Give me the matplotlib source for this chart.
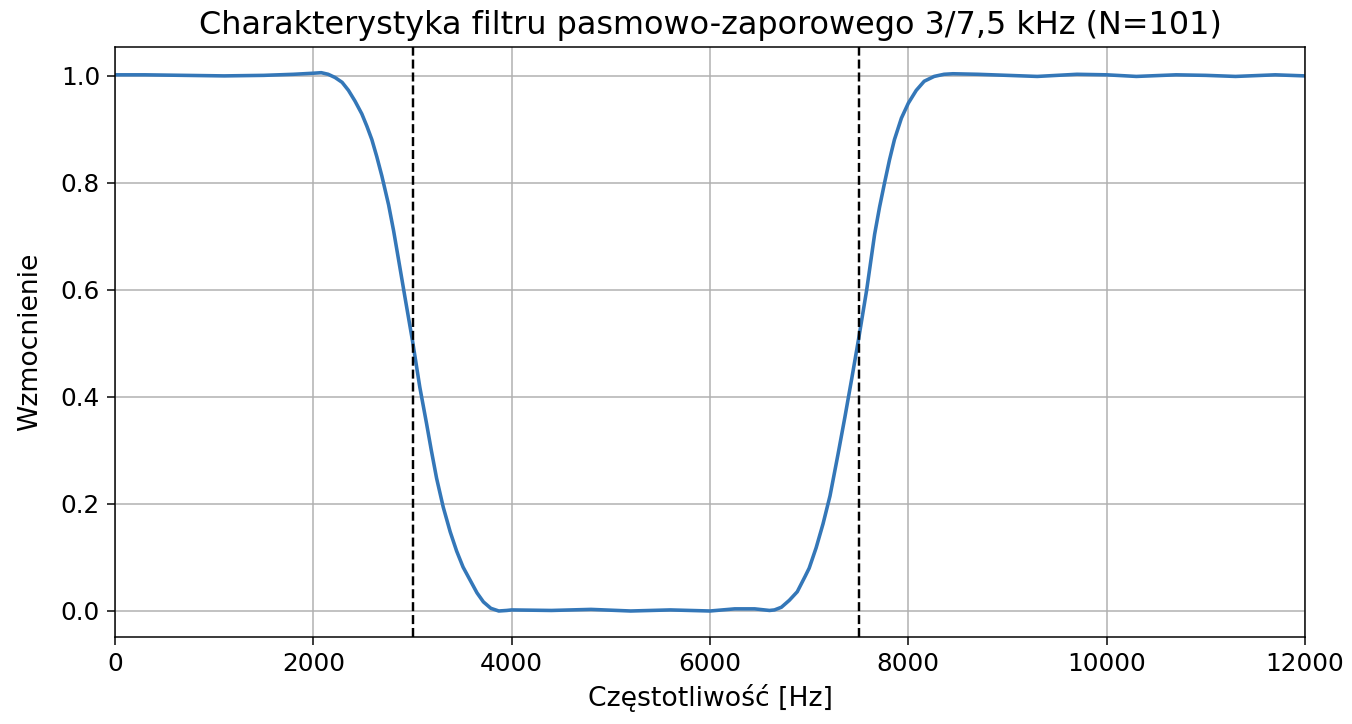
import matplotlib
matplotlib.use("Agg")
import matplotlib.pyplot as plt

# Frequency (Hz) and gain
freq = [0, 300, 700, 1100, 1500, 1800, 2000, 2080, 2150, 2219, 2290, 2354, 2420,
        2489, 2540, 2590, 2640, 2691, 2759, 2810, 2860, 2928, 3000, 3074, 3142,
        3190, 3243, 3310, 3380, 3445, 3510, 3580, 3650, 3715, 3790, 3870, 3950,
        4000, 4400, 4800, 5200, 5600, 6000, 6250, 6450, 6600, 6650, 6720, 6800,
        6880, 6960, 7000, 7070, 7140, 7210, 7290, 7360, 7430, 7500, 7580, 7660,
        7710, 7760, 7810, 7860, 7930, 8000, 8080, 8160, 8260, 8360, 8450, 8700,
        9000, 9300, 9700, 10000, 10300, 10700, 11000, 11300, 11700, 12000]
gain = [1.002, 1.002, 1.001, 1.000, 1.001, 1.003, 1.005, 1.006, 1.003, 0.997,
        0.988, 0.973, 0.953, 0.929, 0.906, 0.881, 0.849, 0.813, 0.759, 0.710,
        0.656, 0.582, 0.505, 0.418, 0.350, 0.300, 0.248, 0.194, 0.148, 0.112,
        0.082, 0.058, 0.034, 0.017, 0.005, 0.000, 0.001, 0.002, 0.001, 0.003,
        0.000, 0.002, 0.000, 0.004, 0.004, 0.001, 0.002, 0.007, 0.020, 0.036,
        0.065, 0.080, 0.118, 0.163, 0.215, 0.292, 0.362, 0.435, 0.510, 0.600,
        0.704, 0.755, 0.800, 0.843, 0.881, 0.921, 0.949, 0.973, 0.990, 0.999,
        1.003, 1.004, 1.003, 1.001, 0.999, 1.003, 1.002, 0.999, 1.002, 1.001,
        0.999, 1.002, 1.000]
cutoffs = [3000, 7500]
xticks = [0, 2000, 4000, 6000, 8000, 10000, 12000]
yticks = [0.0, 0.2, 0.4, 0.6, 0.8, 1.0]

dpi = 135
fig = plt.figure(figsize=(1352 / dpi, 724 / dpi), dpi=dpi)
ax = fig.add_axes([115 / 1352, 1 - 637 / 724, (1305 - 115) / 1352, (637 - 47) / 724])
ax.plot(freq, gain, color="#3477b8", linewidth=1.9)
for c in cutoffs:
    ax.axvline(c, color="black", linestyle="--", linewidth=1.3)
ax.set_xlim(0, 12000)
ax.set_ylim(-0.0486, 1.054)
ax.set_xticks(xticks)
ax.set_yticks(yticks)
ax.tick_params(labelsize=13.2, length=4.5)
ax.grid(True)
ax.set_title("Charakterystyka filtru pasmowo-zaporowego 3/7,5 kHz (N=101)", fontsize=17, pad=7)
ax.set_xlabel("Częstotliwość [Hz]", fontsize=14.2, labelpad=4)
ax.set_ylabel("Wzmocnienie", fontsize=14.2, labelpad=9.5)
fig.savefig("out.png", dpi=dpi)
